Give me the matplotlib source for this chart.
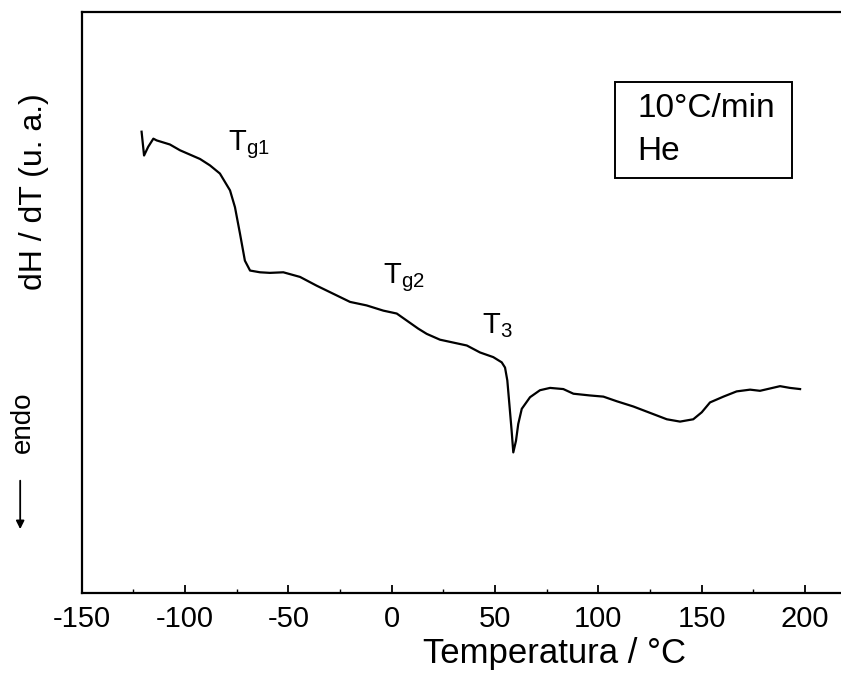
import matplotlib
matplotlib.use("Agg")
import matplotlib.pyplot as plt
from matplotlib.patches import Rectangle, FancyArrowPatch
from matplotlib.ticker import MultipleLocator

plt.rcParams['font.family'] = ['Liberation Sans', 'DejaVu Sans']
plt.rcParams['mathtext.fontset'] = 'custom'
plt.rcParams['mathtext.rm'] = 'Liberation Sans'
plt.rcParams['mathtext.it'] = 'Liberation Sans'
plt.rcParams['axes.unicode_minus'] = False

# DSC trace, 10 °C/min under He
temperatura = [-121.0, -119.8, -117.8, -115.3, -113.7, -107.3, -102.4, -92.7, -87.9,
               -83.1, -78.2, -75.8, -73.4, -71.0, -68.5, -63.7, -58.9, -52.4, -44.3,
               -36.3, -28.2, -20.1, -12.1, -4.0, 2.5, 7.3, 12.9, 17.0, 23.4, 29.9,
               36.4, 42.8, 49.2, 53.3, 54.9, 56.0, 57.0, 58.1, 58.9, 60.2, 61.3, 63.0,
               67.0, 71.8, 76.7, 83.1, 88.0, 96.0, 102.5, 109.0, 117.0, 125.1, 133.2,
               139.6, 146.0, 150.1, 154.1, 160.6, 167.0, 173.5, 178.3, 188.0, 192.8, 197.7]
dh_dt = [79.4, 75.3, 76.8, 78.2, 77.9, 77.2, 76.2, 74.7, 73.6,
         72.2, 69.3, 66.4, 61.9, 57.2, 55.5, 55.2, 55.1, 55.2, 54.4,
         52.9, 51.5, 50.1, 49.5, 48.6, 48.1, 46.9, 45.5, 44.6, 43.6, 43.1,
         42.6, 41.4, 40.6, 39.7, 38.8, 36.6, 32.5, 27.9, 24.2, 26.2, 29.1, 31.7,
         33.7, 34.9, 35.3, 35.1, 34.3, 34.0, 33.8, 33.0, 32.1, 31.0, 29.9,
         29.5, 29.9, 31.1, 32.8, 33.8, 34.7, 35.0, 34.8, 35.6, 35.3, 35.1]

# transition labels: (main, subscript, x, y)
transiciones = [('T', 'g1', -79.2, 76.2), ('T', 'g2', -4.2, 53.3), ('T', '3', 43.8, 44.8)]

fig = plt.figure(figsize=(8.41, 6.75), dpi=100)
ax = fig.add_axes([0.0971, 0.1215, 0.9029, 0.8607])

ax.plot(temperatura, dh_dt, color='black', lw=1.6)

ax.set_xlim(-150, 217.5)
ax.set_ylim(0, 100)
ax.xaxis.set_major_locator(MultipleLocator(50))
ax.xaxis.set_minor_locator(MultipleLocator(25))
ax.tick_params(axis='x', which='major', direction='in', length=6, width=1.3,
               labelsize=21, pad=9)
ax.tick_params(axis='x', which='minor', direction='in', length=3, width=1.0)
ax.set_yticks([])
for s in ax.spines.values():
    s.set_linewidth(1.6)
ax.spines['right'].set_visible(False)

for main, sub, x, y in transiciones:
    ax.text(x, y, r'$\mathregular{%s_{%s}}$' % (main, sub), fontsize=21,
            ha='left', va='baseline')

# legend box with conditions
ax.add_patch(Rectangle((0.702, 0.714), 0.2335, 0.1655, transform=ax.transAxes,
                       fill=False, lw=1.4, ec='black'))
ax.text(0.732, 0.820, '10°C/min', transform=ax.transAxes, fontsize=24,
        va='baseline')
ax.text(0.732, 0.746, 'He', transform=ax.transAxes, fontsize=24, va='baseline')

fig.text(0.659, 0.018, 'Temperatura / °C', fontsize=25, ha='center', va='baseline')
fig.text(0.040, 0.716, 'dH / dT (u. a.)', fontsize=23, rotation=90,
         ha='center', va='center')
fig.text(0.027, 0.375, 'endo', fontsize=20, rotation=90, ha='center', va='center')
fig.add_artist(FancyArrowPatch((0.024, 0.292), (0.024, 0.212), transform=fig.transFigure,
                               arrowstyle='-|>', mutation_scale=12, lw=1.3, color='black'))

fig.savefig('out.png', dpi=100)
